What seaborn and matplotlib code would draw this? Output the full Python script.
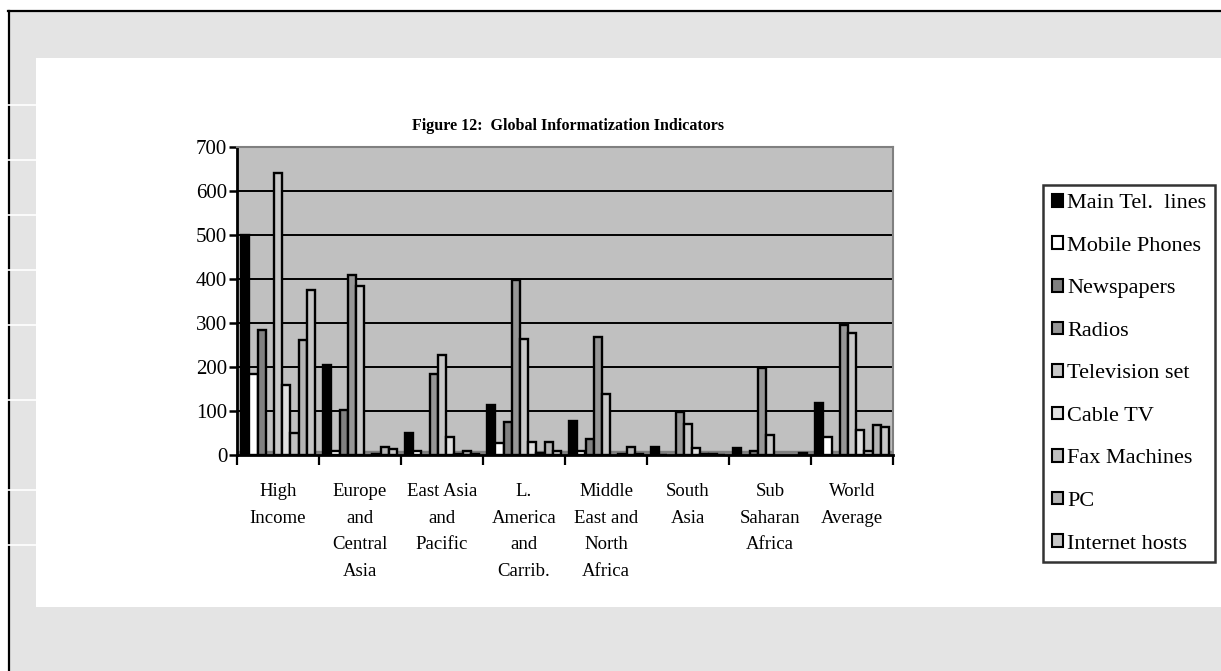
import numpy as np
import pandas as pd
import matplotlib
matplotlib.use("Agg")
import matplotlib.pyplot as plt
from matplotlib.patches import Rectangle, Patch
from matplotlib.lines import Line2D
import seaborn as sns

# Regions (x categories)
regions = ["High\nIncome", "Europe\nand\nCentral\nAsia", "East Asia\nand\nPacific",
           "L.\nAmerica\nand\nCarrib.", "Middle\nEast and\nNorth\nAfrica", "South\nAsia",
           "Sub\nSaharan\nAfrica", "World\nAverage"]

# Indicator series (per 1000 people; internet hosts per 10000), NaN = not reported
main_tel_lines = [500, 205, 50, 113, 77, 19, 17, 118]
mobile_phones  = [185, 10, 9, 28, 8, 1, np.nan, 40]
newspapers     = [285, 103, np.nan, 75, 37, np.nan, 10, np.nan]
radios         = [np.nan, 410, 183, 398, 268, 98, 197, 295]
television_set = [640, 385, 228, 264, 139, 70, 45, 278]
cable_tv       = [160, np.nan, 42, 30, np.nan, 17, np.nan, 57]
fax_machines   = [50, 2, 2, 4, 2, 3, np.nan, 10]
pc             = [262, 18, 9, 30, 18, 2, np.nan, 68]
internet_hosts = [375, 13, 2, 10, 3, 1, 4, 63]

indicators = ["Main Tel.  lines", "Mobile Phones", "Newspapers", "Radios",
              "Television set", "Cable TV", "Fax Machines", "PC", "Internet hosts"]
colors = ["#000000", "#ffffff", "#808080", "#969696", "#c8c8c8",
          "#e0e0e0", "#c0c0c0", "#b4b4b4", "#c6c6c6"]
y_ticks = [0, 100, 200, 300, 400, 500, 600, 700]

series = [main_tel_lines, mobile_phones, newspapers, radios, television_set,
          cable_tv, fax_machines, pc, internet_hosts]
rows = []
for name, vals in zip(indicators, series):
    for reg, v in zip(regions, vals):
        rows.append({"region": reg, "indicator": name, "value": v})
df = pd.DataFrame(rows).dropna()

W, H = 1221, 671
fig = plt.figure(figsize=(W / 100, H / 100), dpi=100)
fig.patch.set_facecolor("white")

def fx(px):
    return px / W

def fy(py):
    return 1 - py / H

# page frame: gray margin, white chart area, black border lines
fig.patches.append(Rectangle((fx(9), 0), 1 - fx(9), fy(11), transform=fig.transFigure,
                             facecolor="#e4e4e4", edgecolor="none", zorder=-3))
fig.patches.append(Rectangle((fx(36), fy(607)), 1 - fx(36), fy(58) - fy(607),
                             transform=fig.transFigure, facecolor="white",
                             edgecolor="none", zorder=-2))
fig.add_artist(Line2D([fx(8), 1], [fy(11), fy(11)], color="black", lw=1.6,
                      transform=fig.transFigure, zorder=-1))
fig.add_artist(Line2D([fx(9), fx(9)], [0, fy(11)], color="black", lw=1.6,
                      transform=fig.transFigure, zorder=-1))
for py in [105, 160, 215, 270, 325, 400, 490, 545]:
    fig.add_artist(Line2D([0, fx(36)], [fy(py), fy(py)], color="white", lw=1.2,
                          transform=fig.transFigure, zorder=-1))

ax = fig.add_axes([fx(237), fy(455), fx(893) - fx(237), fy(147) - fy(455)])
ax.set_zorder(1)
ax.set_facecolor("#c0c0c0")

sns.barplot(data=df, x="region", y="value", hue="indicator", order=regions,
            hue_order=indicators, palette=colors, width=0.9, gap=0,
            edgecolor="black", linewidth=1.7, errorbar=None, ax=ax, zorder=3)

ax.set_ylim(0, 700)
ax.set_xlim(-0.5, len(regions) - 0.5)
ax.set_yticks(y_ticks)
ax.yaxis.grid(True, color="black", linewidth=1.4, zorder=1)
ax.set_axisbelow(True)
ax.axhspan(0, 9, color="#808080", zorder=2)

serif = ["Liberation Serif", "DejaVu Serif"]
for s in ["top", "right"]:
    ax.spines[s].set_color("#808080")
    ax.spines[s].set_linewidth(1.5)
for s in ["left", "bottom"]:
    ax.spines[s].set_color("black")
    ax.spines[s].set_linewidth(2)

ax.set_xticks(range(len(regions)))
ax.set_xticklabels(regions, fontfamily=serif, fontsize=13.5, linespacing=1.75,
                   va="top")
ax.tick_params(axis="x", length=0, pad=20)
ax.set_xticks(np.arange(-0.5, len(regions)), minor=True)
ax.tick_params(axis="x", which="minor", length=7, width=1.6, color="black",
               direction="out")
ax.tick_params(axis="y", length=6, width=1.8, color="black", direction="out",
               labelsize=15, pad=1)
for lab in ax.get_yticklabels():
    lab.set_fontfamily(serif)
ax.set_xlabel("")
ax.set_ylabel("")

leg = ax.get_legend()
if leg is not None:
    leg.remove()
handles = [Patch(facecolor=c, edgecolor="black", linewidth=1.5) for c in colors]
lg = fig.legend(handles, indicators, loc="upper left",
                bbox_to_anchor=(fx(1043), fy(185)), bbox_transform=fig.transFigure,
                frameon=True, fancybox=False, shadow=False, borderaxespad=0,
                prop={"family": serif, "size": 16}, handlelength=0.5,
                handleheight=0.5, handletextpad=0.2, labelspacing=1.05,
                borderpad=0.4)
lg.get_frame().set_edgecolor("black")
lg.get_frame().set_linewidth(1.8)

fig.text(fx(568), fy(126), "Figure 12:  Global Informatization Indicators",
         ha="center", va="center", fontfamily=serif, fontweight="bold",
         fontsize=11.5)

fig.savefig("out.png", dpi=100)
